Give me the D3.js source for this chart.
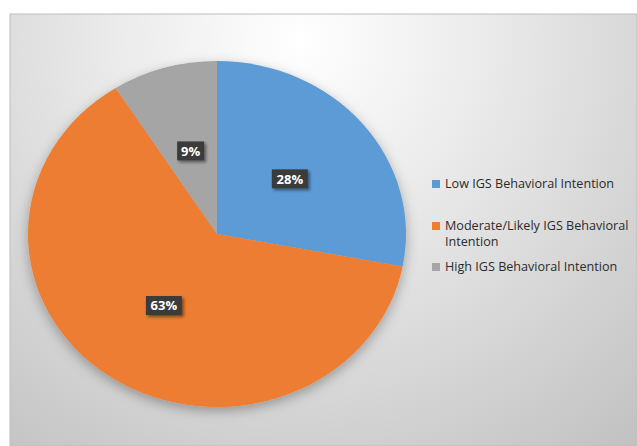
<!DOCTYPE html>
<html>
<head>
<meta charset="utf-8">
<script src="https://cdn.jsdelivr.net/npm/d3@7"></script>
<style>
  body { margin: 0; background: #fff; }
  svg { display: block; }
</style>
</head>
<body>
<div id="chart"></div>
<script>
// Data
const categories = ["Low IGS Behavioral Intention", "Moderate/Likely IGS Behavioral Intention", "High IGS Behavioral Intention"];
const legendLines = [["Low IGS Behavioral Intention"], ["Moderate/Likely IGS Behavioral", "Intention"], ["High IGS Behavioral Intention"]];
const values = [28, 63, 9];
const colors = ["#5B9BD5", "#ED7D31", "#A5A5A5"];

const W = 637, H = 446;
const svg = d3.select("#chart").append("svg")
    .attr("width", W)
    .attr("height", H);

const defs = svg.append("defs");

// background gradient
const bg = defs.append("radialGradient")
    .attr("id", "bg")
    .attr("gradientUnits", "userSpaceOnUse")
    .attr("cx", 300).attr("cy", 40).attr("r", 520);
bg.append("stop").attr("offset", "0%").attr("stop-color", "#ffffff");
bg.append("stop").attr("offset", "35%").attr("stop-color", "#ebebeb");
bg.append("stop").attr("offset", "100%").attr("stop-color", "#c2c2c2");

// shadows
const sh = defs.append("filter").attr("id", "pieShadow")
    .attr("x", "-20%").attr("y", "-20%").attr("width", "140%").attr("height", "140%");
sh.append("feDropShadow").attr("dx", 0).attr("dy", 4).attr("stdDeviation", 6)
    .attr("flood-color", "#000").attr("flood-opacity", 0.3);

const lsh = defs.append("filter").attr("id", "labelShadow")
    .attr("x", "-30%").attr("y", "-30%").attr("width", "160%").attr("height", "160%");
lsh.append("feDropShadow").attr("dx", 2).attr("dy", 2).attr("stdDeviation", 1.5)
    .attr("flood-color", "#000").attr("flood-opacity", 0.45);

// chart area
svg.append("rect")
    .attr("x", 10).attr("y", 14)
    .attr("width", W - 10).attr("height", H - 14)
    .attr("fill", "url(#bg)")
    .attr("stroke", "#bdbdbd")
    .attr("stroke-width", 1);

// Pie (slightly stretched horizontally like the source)
const cx = 217, cy = 234, ry = 173, rx = 189;
const sx = rx / ry;

const pie = d3.pie().sort(null).value(d => d);
const arcs = pie(values);
const arc = d3.arc().innerRadius(0).outerRadius(ry);

const g = svg.append("g")
    .attr("transform", `translate(${cx},${cy})`);

g.append("g")
    .attr("transform", `scale(${sx},1)`)
    .attr("filter", "url(#pieShadow)")
    .selectAll("path")
    .data(arcs)
    .enter()
    .append("path")
    .attr("d", arc)
    .attr("fill", (d, i) => colors[i]);

// Data labels
const labels = g.selectAll(".lbl")
    .data(arcs)
    .enter()
    .append("g")
    .attr("class", "lbl")
    .attr("transform", d => {
        const c = arc.centroid(d);
        return `translate(${c[0] * sx},${c[1]})`;
    });

labels.append("rect")
    .attr("x", d => d.data >= 10 ? -18 : -13.5)
    .attr("y", -9.5)
    .attr("width", d => d.data >= 10 ? 36 : 27)
    .attr("height", 19)
    .attr("fill", "#3b3b3b")
    .attr("filter", "url(#labelShadow)");

labels.append("text")
    .attr("text-anchor", "middle")
    .attr("dy", "0.36em")
    .attr("fill", "#fff")
    .style("font-family", "'Open Sans', sans-serif")
    .style("font-weight", "bold")
    .style("font-size", "13px")
    .text(d => `${d.data}%`);

// Legend
const legendY = [184, 226, 267];
const legend = svg.append("g");
legendLines.forEach((lines, i) => {
    const item = legend.append("g").attr("transform", `translate(432,${legendY[i]})`);
    item.append("rect")
        .attr("x", 0).attr("y", -4)
        .attr("width", 8).attr("height", 8)
        .attr("fill", colors[i]);
    lines.forEach((t, j) => {
        item.append("text")
            .attr("x", 13)
            .attr("y", j * 16)
            .attr("dy", "0.35em")
            .attr("fill", "#2b2b2b")
            .style("font-family", "'Open Sans', sans-serif")
            .style("font-size", "12.6px")
            .text(t);
    });
});
</script>
</body>
</html>
